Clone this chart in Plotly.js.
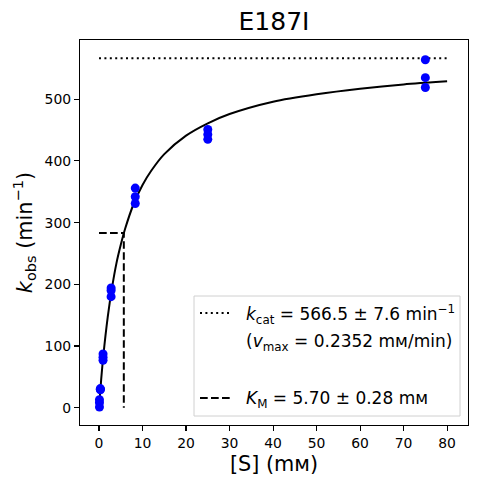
<!DOCTYPE html>
<html>
<head>
<meta charset="utf-8">
<script src="https://cdn.plot.ly/plotly-3.0.1.min.js"></script>
<style>html,body{margin:0;padding:0;background:#fff}#chart{width:477px;height:484px}</style>
</head>
<body>
<div id="chart"></div>
<script>
// Measured substrate concentrations (mM) and observed rates (min^-1)
const substrate = [0.103, 0.103, 0.103, 0.309, 0.309, 0.309, 0.926, 0.926, 0.926,
                   2.78, 2.78, 2.78, 8.33, 8.33, 8.33, 25, 25, 25, 75, 75, 75];
const kobs = [1, 8, 13, 29, 30, 31, 77, 82, 87,
              180, 190, 194, 331, 342, 356, 435, 443, 451, 519, 535, 564];

// Fitted curve
const curveS = [0, 0.5, 1, 2, 3, 4, 5, 6, 8, 10, 12, 15, 20, 25, 30, 40, 50, 60, 70, 80];
const curveK = [0, 46, 85, 147, 195, 234, 264, 290, 331, 361, 384, 411, 441, 461, 476, 496, 508, 517, 524, 529];

// Fit parameters
const kcat = 566.5;
const kcatHalf = 283.25;
const KM = 5.70;
const kcatLineS = [0, 80];
const xTicks = [0, 10, 20, 30, 40, 50, 60, 70, 80];
const yTicks = [0, 100, 200, 300, 400, 500];

const FONT = "DejaVu Sans, Liberation Sans, sans-serif";

const traces = [
  {x: kcatLineS, y: [kcat, kcat], mode: 'lines', type: 'scatter',
   line: {color: 'black', width: 2, dash: '2px,3.4px'}, hoverinfo: 'skip'},
  {x: [0, KM, KM], y: [kcatHalf, kcatHalf, 0], mode: 'lines', type: 'scatter',
   line: {color: 'black', width: 2, dash: '7.7px,3.3px'}, hoverinfo: 'skip'},
  {x: curveS, y: curveK, mode: 'lines', type: 'scatter',
   line: {color: 'black', width: 2, shape: 'spline', smoothing: 0.8}},
  {x: substrate, y: kobs, mode: 'markers', type: 'scatter',
   marker: {color: '#0000ff', size: 9, line: {width: 0}}}
];

// paper-coordinate helpers (plot area: x 80..468, y 40..425 px)
const px = v => (v - 80) / 388;
const py = v => (425 - v) / 385;

const legendFont = {family: FONT, size: 17, color: 'black'};

const layout = {
  width: 477, height: 484,
  margin: {l: 80, r: 9, t: 40, b: 59, pad: 0},
  paper_bgcolor: 'white', plot_bgcolor: 'white',
  showlegend: false,
  font: {family: FONT, color: 'black'},
  title: {text: 'E187I', font: {family: FONT, size: 25, color: 'black'},
          x: 0.5, xref: 'paper', y: 1 - 21 / 484, yref: 'container', yanchor: 'middle'},
  xaxis: {
    range: [-4.37, 84.8], tickvals: xTicks, ticks: 'outside', ticklen: 5, tickwidth: 1.1,
    tickcolor: 'black', showgrid: false, zeroline: false, showline: true, linecolor: 'black',
    linewidth: 1.1, mirror: true, tickfont: {family: FONT, size: 13.9, color: 'black'},
    title: {text: '[S] (mм)', font: {family: FONT, size: 20.8, color: 'black'}, standoff: 6}
  },
  yaxis: {
    range: [-28, 596], tickvals: yTicks, ticks: 'outside', ticklen: 5, tickwidth: 1.1,
    tickcolor: 'black', showgrid: false, zeroline: false, showline: true, linecolor: 'black',
    linewidth: 1.1, mirror: true, tickfont: {family: FONT, size: 13.9, color: 'black'},
    title: {text: '<i>k</i><sub>obs</sub> (min<sup>−1</sup>)', font: {family: FONT, size: 20.8, color: 'black'}, standoff: 6}
  },
  shapes: [
    {type: 'rect', xref: 'paper', yref: 'paper', x0: px(194), x1: px(460), y0: py(416), y1: py(296),
     line: {color: '#d0d0d0', width: 1}, fillcolor: 'rgba(255,255,255,0.8)', layer: 'above'},
    {type: 'line', xref: 'paper', yref: 'paper', x0: px(200), x1: px(229), y0: py(313), y1: py(313),
     line: {color: 'black', width: 2, dash: '2px,3.4px'}, layer: 'above'},
    {type: 'line', xref: 'paper', yref: 'paper', x0: px(200), x1: px(230), y0: py(398), y1: py(398),
     line: {color: 'black', width: 2, dash: '7.7px,3.3px'}, layer: 'above'}
  ],
  annotations: [
    {xref: 'paper', yref: 'paper', x: px(244), y: py(314), xanchor: 'left', yanchor: 'middle', showarrow: false,
     text: '<i>k</i><sub>cat</sub> = 566.5 ± 7.6 min<sup>−1</sup>', font: legendFont},
    {xref: 'paper', yref: 'paper', x: px(244), y: py(342), xanchor: 'left', yanchor: 'middle', showarrow: false,
     text: '(<i>v</i><sub>max</sub> = 0.2352 mм/min)', font: legendFont},
    {xref: 'paper', yref: 'paper', x: px(244), y: py(399), xanchor: 'left', yanchor: 'middle', showarrow: false,
     text: '<i>K</i><sub>M</sub> = 5.70 ± 0.28 mм', font: legendFont}
  ]
};

Plotly.newPlot('chart', traces, layout, {displayModeBar: false, staticPlot: true});
</script>
</body>
</html>
